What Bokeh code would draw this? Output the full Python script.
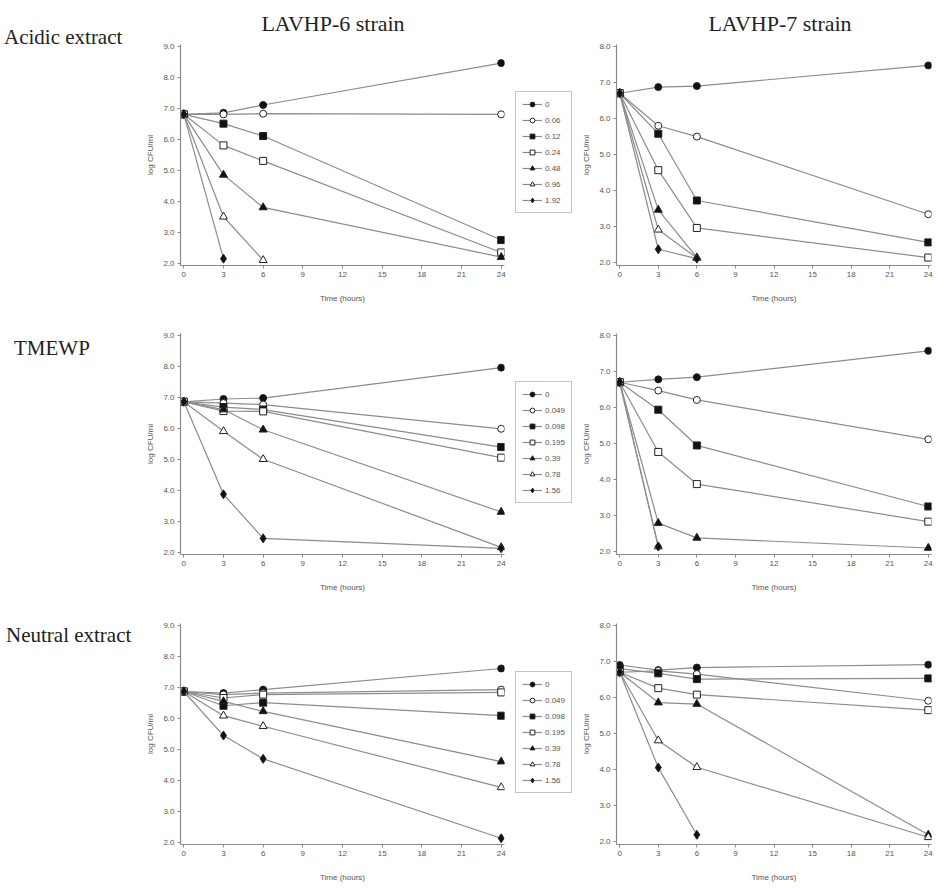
from bokeh.plotting import figure
from bokeh.models import Range1d, Legend, LegendItem, FixedTicker, NumeralTickFormatter, Div
from bokeh.layouts import column, row
from bokeh.embed import file_html
from bokeh.resources import INLINE

# ---------------- data ----------------
times = [0, 3, 6, 24]
x_ticks = [0, 3, 6, 9, 12, 15, 18, 21, 24]
left_y_ticks = [2, 3, 4, 5, 6, 7, 8, 9]
right_y_ticks = [2, 3, 4, 5, 6, 7, 8]

col_titles = ["LAVHP-6 strain", "LAVHP-7 strain"]
row_titles = ["Acidic extract", "TMEWP", "Neutral extract"]

acid_labels = ["0", "0.06", "0.12", "0.24", "0.48", "0.96", "1.92"]
tmewp_labels = ["0", "0.049", "0.098", "0.195", "0.39", "0.78", "1.56"]
neutral_labels = ["0", "0.049", "0.098", "0.195", "0.39", "0.78", "1.56"]

# log CFU/ml at 0, 3, 6, 24 h (None = no point)
acid_l6 = [
    [6.8, 6.85, 7.1, 8.45],
    [6.8, 6.8, 6.82, 6.8],
    [6.8, 6.5, 6.1, 2.75],
    [6.8, 5.8, 5.3, 2.35],
    [6.8, 4.85, 3.8, 2.2],
    [6.8, 3.5, 2.1, None],
    [6.8, 2.15, None, None],
]
acid_l7 = [
    [6.7, 6.87, 6.9, 7.47],
    [6.7, 5.8, 5.5, 3.35],
    [6.7, 5.58, 3.73, 2.57],
    [6.7, 4.57, 2.97, 2.15],
    [6.7, 3.47, 2.15, None],
    [6.7, 2.92, 2.14, None],
    [6.7, 2.38, 2.12, None],
]
tmewp_l6 = [
    [6.85, 6.94, 6.97, 7.95],
    [6.85, 6.81, 6.76, 5.98],
    [6.85, 6.68, 6.6, 5.39],
    [6.85, 6.55, 6.54, 5.05],
    [6.85, 6.6, 5.95, 3.3],
    [6.85, 5.9, 5.0, 2.16],
    [6.85, 3.87, 2.45, 2.13],
]
tmewp_l7 = [
    [6.7, 6.78, 6.84, 7.57],
    [6.7, 6.47, 6.21, 5.12],
    [6.7, 5.94, 4.95, 3.26],
    [6.7, 4.77, 3.88, 2.84],
    [6.7, 2.8, 2.39, 2.11],
    [6.7, 2.15, None, None],
    [6.7, 2.15, None, None],
]
neutral_l6 = [
    [6.86, 6.81, 6.92, 7.6],
    [6.86, 6.76, 6.81, 6.92],
    [6.86, 6.4, 6.5, 6.08],
    [6.86, 6.65, 6.76, 6.83],
    [6.86, 6.54, 6.22, 4.6],
    [6.86, 6.08, 5.74, 3.77],
    [6.86, 5.44, 4.69, 2.13],
]
neutral_l7 = [
    [6.9, 6.76, 6.83, 6.91],
    [6.7, 6.74, 6.65, 5.91],
    [6.8, 6.67, 6.51, 6.53],
    [6.7, 6.26, 6.08, 5.65],
    [6.7, 5.86, 5.82, 2.2],
    [6.7, 4.81, 4.07, 2.13],
    [6.7, 4.06, 2.2, None],
]

# ---------------- styles ----------------
marker_types = ["circle", "circle", "square", "square", "triangle", "triangle", "diamond"]
marker_filled = [True, False, True, False, True, False, True]
marker_sizes = [7, 7, 7, 7, 8, 8, 9]

SANS = "Liberation Sans"
SERIF = "Liberation Serif"
AXIS_COLOR = "#8a8a8a"
LINE_COLOR = "#8c8c8c"
TXT = "#555555"


def style_fig(p):
    p.grid.visible = False
    p.outline_line_color = None
    p.background_fill_color = "white"
    p.border_fill_color = "white"


def add_series(p, i, ys):
    xs = [t for t, v in zip(times, ys) if v is not None]
    vs = [v for v in ys if v is not None]
    lr = p.line(xs, vs, line_color=LINE_COLOR, line_width=1.2)
    sr = p.scatter(xs, vs, marker=marker_types[i], size=marker_sizes[i],
                   line_color="#222222", line_width=1,
                   fill_color="#111111" if marker_filled[i] else "white")
    return lr, sr


def make_panel(series, side, top, bottom):
    if side == "left":
        mbl, fw, mbr = 40, 324, 11
        y_range = Range1d(1.93, 9.05)
        yt = left_y_ticks
    else:
        mbl, fw, mbr = 41, 315, 6
        y_range = Range1d(1.93, 8.05)
        yt = right_y_ticks
    p = figure(frame_width=fw, frame_height=221, min_border_left=mbl, min_border_right=mbr,
               min_border_top=top, min_border_bottom=bottom, title=None,
               x_range=Range1d(-0.25, 24.25), y_range=y_range,
               output_backend="svg", toolbar_location=None)
    style_fig(p)
    p.xaxis.ticker = FixedTicker(ticks=x_ticks)
    p.yaxis.ticker = FixedTicker(ticks=yt)
    p.yaxis.formatter = NumeralTickFormatter(format="0.0")
    p.xaxis.axis_label = "Time (hours)"
    p.yaxis.axis_label = "log CFU/ml"
    for ax in (p.xaxis, p.yaxis):
        ax.axis_line_color = AXIS_COLOR
        ax.axis_line_width = 1.2
        ax.major_tick_line_color = AXIS_COLOR
        ax.major_tick_in = 0
        ax.major_tick_out = 3
        ax.minor_tick_line_color = None
        ax.major_label_text_font = SANS
        ax.major_label_text_font_size = "8px"
        ax.major_label_text_color = TXT
        ax.major_label_standoff = 3
        ax.axis_label_text_font = SANS
        ax.axis_label_text_font_size = "8px"
        ax.axis_label_text_font_style = "normal"
        ax.axis_label_text_color = TXT
    p.xaxis.axis_label_standoff = 14
    p.yaxis.axis_label_standoff = 5

    for i, ys in enumerate(series):
        add_series(p, i, ys)
    return p


def make_legend_fig(series, labels, height, legend_bottom):
    # legend-only figure: the ranges keep the series out of view, only the key shows
    p = figure(width=60, height=height, min_border=0, title=None,
               x_axis_location=None, y_axis_location=None,
               x_range=Range1d(100, 101), y_range=Range1d(100, 101),
               output_backend="svg", toolbar_location=None)
    style_fig(p)
    items = []
    for i, lab in enumerate(labels):
        lr, sr = add_series(p, i, series[i])
        items.append(LegendItem(label=lab, renderers=[lr, sr]))
    leg = Legend(items=items, location=(0, legend_bottom), orientation="vertical",
                 label_text_font=SANS, label_text_font_size="8px", label_text_color=TXT,
                 glyph_width=20, glyph_height=12, label_height=12, label_standoff=3,
                 spacing=4, padding=6, margin=0,
                 border_line_color="#888888", border_line_width=1,
                 background_fill_color="white", background_fill_alpha=1.0)
    p.add_layout(leg, "center")
    return p


def span(txt, left, top, size, width=None):
    w = f"width:{width}px;text-align:center;" if width else ""
    return (f'<span style="position:absolute;left:{left}px;top:{top}px;{w}white-space:nowrap;'
            f'font-family:\'{SERIF}\';font-size:{size};line-height:1;color:#222222;">{txt}</span>')


row_title_div = Div(
    text=('<div style="position:relative;width:140px;height:888px;">'
          + span(row_titles[0], 4, 26.5, "21px") + span(row_titles[1], 14, 337.5, "21px")
          + span(row_titles[2], 6, 624.5, "21px") + '</div>'),
    width=140, height=888, margin=0)

header = Div(text='<div style="position:relative;width:797px;height:36px;">'
             + span(col_titles[0], 93, 12.5, "22px", 200)
             + span(col_titles[1], 540, 12.5, "22px", 200) + '</div>',
             width=797, height=36, margin=0)

p1 = make_panel(acid_l6, "left", 8, 40)
l1 = make_legend_fig(acid_l6, acid_labels, 269, 52)
p2 = make_panel(acid_l7, "right", 8, 40)
p3 = make_panel(tmewp_l6, "left", 28, 41)
l3 = make_legend_fig(tmewp_l6, tmewp_labels, 290, 51)
p4 = make_panel(tmewp_l7, "right", 28, 41)
p5 = make_panel(neutral_l6, "left", 28, 44)
l5 = make_legend_fig(neutral_l6, neutral_labels, 293, 51)
p6 = make_panel(neutral_l7, "right", 28, 44)

grid = column(header,
              row(p1, l1, p2, spacing=0),
              row(p3, l3, p4, spacing=0),
              row(p5, l5, p6, spacing=0),
              spacing=0)
layout = row(row_title_div, grid, spacing=0)

open("out.html", "w").write(file_html(layout, INLINE))
